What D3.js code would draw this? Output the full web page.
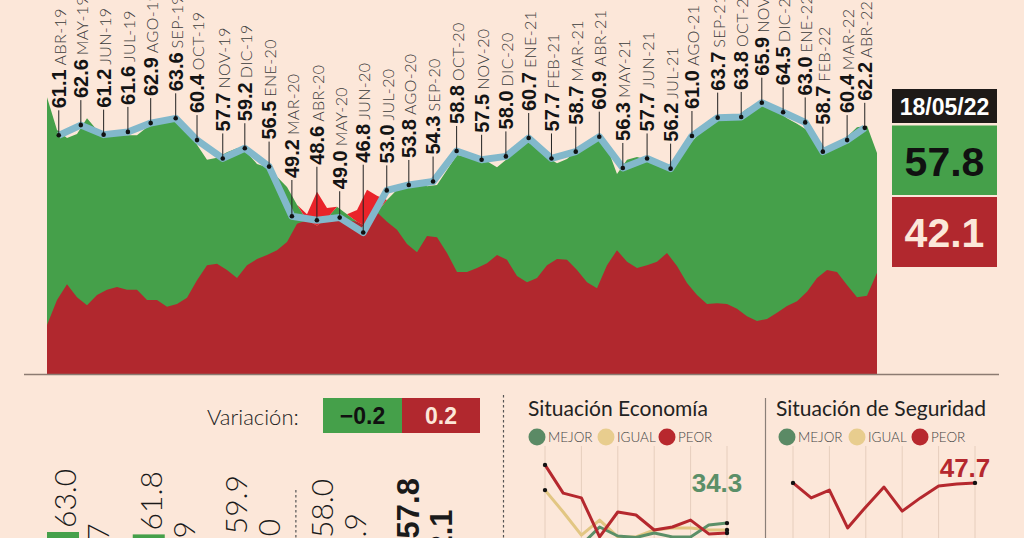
<!DOCTYPE html>
<html>
<head>
<meta charset="utf-8">
<script src="https://cdn.jsdelivr.net/npm/d3@7"></script>
<style>
  html, body { margin: 0; padding: 0; background: #fce7d9; }
  svg { display: block; }
</style>
</head>
<body>
<div id="chart"></div>
<script>
// daily tracking at even steps
const approvalTrack = [66.7, 61.9, 60.7, 61.3, 63.6, 61.9, 61.4, 61.1, 61.1, 61.1,
  62.3, 62.8, 63.1, 63.2, 62.2, 59.7, 57.5, 57.8, 58.6, 59.2,
  58.5, 56.9, 56.4, 55.0, 53.5, 50.9, 48.6, 47.8, 48.9, 50.6,
  49.5, 48.4, 47.6, 49.8, 51.6, 53.1, 53.9, 54.4, 53.6, 53.8,
  56.0, 58.2, 57.9, 57.8, 57.3, 56.4, 57.6, 59.1, 60.1, 59.4,
  57.9, 57.0, 57.6, 58.9, 60.1, 60.9, 59.4, 55.4, 57.5, 57.9,
  57.5, 56.9, 56.3, 57.5, 59.4, 61.0, 62.3, 63.5, 63.4, 63.9,
  65.0, 65.7, 65.4, 64.7, 63.6, 62.8, 61.9, 60.4, 58.6, 59.4,
  60.9, 62.3, 62.5, 58.5]
const disapprovalTrack = [33.2, 36.9, 39.2, 37.3, 36.1, 37.6, 38.4, 38.8, 38.4, 38.4,
  36.9, 36.9, 35.9, 36.3, 37.2, 39.8, 42.0, 42.2, 41.3, 40.1,
  42.0, 42.9, 43.5, 44.2, 45.4, 48.1, 49.5, 52.8, 50.4, 49.2,
  48.6, 50.1, 53.1, 52.2, 48.4, 47.2, 45.1, 43.9, 46.3, 46.1,
  43.8, 41.0, 41.0, 41.6, 42.3, 43.5, 42.8, 40.4, 39.5, 40.1,
  42.0, 42.9, 42.8, 41.3, 39.5, 38.6, 42.0, 44.2, 42.5, 41.6,
  42.0, 42.5, 43.8, 41.9, 39.4, 37.6, 36.3, 36.4, 36.3, 35.6,
  34.5, 33.8, 34.1, 35.0, 36.0, 36.7, 38.1, 40.1, 41.3, 41.0,
  39.1, 37.3, 37.5, 40.9]

// monthly surveys
const surveyDates = ["2019-04-30", "2019-05-30", "2019-06-30", "2019-08-02", "2019-09-02", "2019-10-06",
  "2019-11-04", "2019-12-09", "2020-01-08", "2020-02-10", "2020-03-12", "2020-04-15",
  "2020-05-16", "2020-06-17", "2020-07-19", "2020-08-18", "2020-09-20", "2020-10-22",
  "2020-11-25", "2020-12-28", "2021-01-28", "2021-02-28", "2021-04-02", "2021-05-04",
  "2021-06-05", "2021-07-08", "2021-08-09", "2021-09-07", "2021-10-12", "2021-11-13",
  "2021-12-11", "2022-01-09", "2022-02-08", "2022-03-04", "2022-04-06", "2022-04-30"]
const surveyLabels = ["ABR-19", "MAY-19", "JUN-19", "JUL-19", "AGO-19", "SEP-19",
  "OCT-19", "NOV-19", "DIC-19", "ENE-20", "MAR-20", "ABR-20",
  "MAY-20", "JUN-20", "JUL-20", "AGO-20", "SEP-20", "OCT-20",
  "NOV-20", "DIC-20", "ENE-21", "FEB-21", "MAR-21", "ABR-21",
  "MAY-21", "JUN-21", "JUL-21", "AGO-21", "SEP-21", "OCT-21",
  "NOV-21", "DIC-21", "ENE-22", "FEB-22", "MAR-22", "ABR-22"]
const surveyValues = [61.1, 62.6, 61.2, 61.6, 62.9, 63.6,
  60.4, 57.7, 59.2, 56.5, 49.2, 48.6,
  49.0, 46.8, 53.0, 53.8, 54.3, 58.8,
  57.5, 58.0, 60.7, 57.7, 58.7, 60.9,
  56.3, 57.7, 56.2, 61.0, 63.7, 63.8,
  65.9, 64.5, 63.0, 58.7, 60.4, 62.2]

const lastDate = "18/05/22"
const lastApproval = 57.8
const lastDisapproval = 42.1
const variation = [-0.2, 0.2]

// comparison bars (bottom left)
const compareKeys = ["p1", "p2", "p3", "p4", "p5"]
const compareApproval = [63.0, 61.8, 59.9, 58.0, 57.8]
const compareDisapproval = [35.7, 36.9, 38.0, 40.9, 42.1]

// small panels
const legendItems = ["MEJOR", "IGUAL", "PEOR"]
const econBetter = [24.0, 26.0, 27.0, 33.0, 30.0, 29.5, 31.0, 29.7, 29.7, 33.7, 34.3]
const econSame = [45.3, 38.0, 30.3, 35.3, 29.7, 29.7, 32.0, 32.7, 32.7, 32.0, 32.0]
const econWorse = [53.7, 44.3, 42.7, 29.7, 38.0, 37.0, 32.0, 33.0, 35.3, 30.7, 31.0]
const secWorse = [47.7, 42.7, 45.3, 32.7, 39.7, 46.3, 38.3, 42.7, 46.7, 47.3, 47.7]

const W = 1024, H = 538
const BG = "#fce7d9"
const GREEN = "#45a04a", DARKRED = "#b1282e", BRIGHTRED = "#e9232a"
const numFont = "'Liberation Sans', Arial, sans-serif"
const lightFont = "Lato, 'Open Sans', sans-serif"

const svg = d3.select("#chart").append("svg")
    .attr("width", W)
    .attr("height", H)

svg.append("rect").attr("width", W).attr("height", H).attr("fill", BG)

// ---------- main tracking chart ----------
const parse = d3.timeParse("%Y-%m-%d")
const x = d3.scaleTime()
    .domain([new Date(2019, 3, 14), new Date(2022, 4, 18)])
    .range([47, 878])
const xi = d3.scaleLinear().domain([0, approvalTrack.length - 1]).range([47, 877])
const y = d3.scaleLinear().domain([26, 81]).range([374, 0])

const track = approvalTrack.map((a, i) => ({ i: i, a: a, d: disapprovalTrack[i] }))

const main = svg.append("g")

main.append("path")
    .datum(track)
    .attr("fill", GREEN)
    .attr("d", d3.area().x(d => xi(d.i)).y0(y(26)).y1(d => y(d.a)))

main.append("path")
    .datum(track)
    .attr("fill", DARKRED)
    .attr("d", d3.area().x(d => xi(d.i)).y0(y(26)).y1(d => y(Math.min(d.a, d.d))))

// where disapproval goes above approval
main.append("path")
    .datum(track)
    .attr("fill", BRIGHTRED)
    .attr("d", d3.area().x(d => xi(d.i)).y0(d => y(d.a)).y1(d => y(Math.max(d.a, d.d))))

main.append("line")
    .attr("x1", 24).attr("x2", 999)
    .attr("y1", 374.5).attr("y2", 374.5)
    .attr("stroke", "#8c7b72")
    .attr("stroke-width", 1.5)

const surveys = surveyDates.map((s, i) => ({ date: parse(s), label: surveyLabels[i], v: surveyValues[i] }))

main.append("path")
    .datum(surveys)
    .attr("fill", "none")
    .attr("stroke", "#82b8cb")
    .attr("stroke-width", 7)
    .attr("stroke-linejoin", "round")
    .attr("d", d3.line().x(d => x(d.date)).y(d => y(d.v)))

// label height: keep clear of the dot and of the tracking areas nearby
surveys.forEach(d => {
    const px = x(d.date), py = y(d.v)
    let top = py - 26
    track.forEach(t => {
        if (Math.abs(xi(t.i) - px) <= 6) {
            top = Math.min(top, y(t.a) - 8, y(t.d) - 26)
        }
    })
    d.px = px
    d.py = py
    d.labelY = top
})

const lab = main.append("g")
lab.selectAll("line")
    .data(surveys)
    .enter().append("line")
    .attr("x1", d => d.px).attr("x2", d => d.px)
    .attr("y1", d => d.py).attr("y2", d => d.labelY + 1)
    .attr("stroke", "#222")
    .attr("stroke-width", 1)

lab.selectAll("circle")
    .data(surveys)
    .enter().append("circle")
    .attr("cx", d => d.px).attr("cy", d => d.py)
    .attr("r", 2.3)
    .attr("fill", "#111")

const lt = lab.selectAll("text")
    .data(surveys)
    .enter().append("text")
    .attr("transform", d => `translate(${d.px},${d.labelY - 1}) rotate(-90)`)
    .attr("dy", "0.36em")
    .attr("font-family", numFont)
    .attr("font-size", 20)
lt.append("tspan")
    .attr("font-weight", "bold")
    .attr("fill", "#141414")
    .text(d => d3.format(".1f")(d.v))
lt.append("tspan")
    .attr("dx", 4)
    .attr("font-family", lightFont)
    .attr("font-weight", 300)
    .attr("font-size", 16)
    .attr("letter-spacing", 0.4)
    .attr("fill", "#3a3a3a")
    .text(d => d.label)

// ---------- latest value boxes ----------
const box = svg.append("g")
box.append("rect").attr("x", 892).attr("y", 89).attr("width", 105).attr("height", 34).attr("fill", "#1e1a18")
box.append("text").attr("x", 944.5).attr("y", 115).attr("text-anchor", "middle")
    .attr("font-family", numFont).attr("font-weight", "bold").attr("font-size", 23)
    .attr("fill", "#fff").text(lastDate)
box.append("rect").attr("x", 892).attr("y", 125.5).attr("width", 105).attr("height", 69.5).attr("fill", GREEN)
box.append("text").attr("x", 944.5).attr("y", 176).attr("text-anchor", "middle")
    .attr("font-family", numFont).attr("font-weight", "bold").attr("font-size", 41)
    .attr("fill", "#111").text(d3.format(".1f")(lastApproval))
box.append("rect").attr("x", 892).attr("y", 197).attr("width", 105).attr("height", 70).attr("fill", DARKRED)
box.append("text").attr("x", 944.5).attr("y", 247).attr("text-anchor", "middle")
    .attr("font-family", numFont).attr("font-weight", "bold").attr("font-size", 41)
    .attr("fill", BG).text(d3.format(".1f")(lastDisapproval))

// ---------- variation ----------
const vg = svg.append("g")
vg.append("text").attr("x", 207).attr("y", 425)
    .attr("font-family", lightFont).attr("font-weight", 300).attr("font-size", 22)
    .attr("fill", "#222").text("Variación:")
vg.append("rect").attr("x", 323).attr("y", 398).attr("width", 79).attr("height", 35).attr("fill", GREEN)
vg.append("rect").attr("x", 402).attr("y", 398).attr("width", 78).attr("height", 35).attr("fill", DARKRED)
vg.append("text").attr("x", 362.5).attr("y", 424).attr("text-anchor", "middle")
    .attr("font-family", numFont).attr("font-weight", "bold").attr("font-size", 23)
    .attr("fill", "#111").text(d3.format(".1f")(variation[0]))
vg.append("text").attr("x", 441).attr("y", 424).attr("text-anchor", "middle")
    .attr("font-family", numFont).attr("font-weight", "bold").attr("font-size", 23)
    .attr("fill", BG).text(d3.format(".1f")(variation[1]))

svg.append("line")
    .attr("x1", 503.5).attr("x2", 503.5).attr("y1", 395).attr("y2", H)
    .attr("stroke", "#555").attr("stroke-width", 1.2).attr("stroke-dasharray", "2.5,2.5")

// ---------- comparison bars ----------
const xg = d3.scalePoint().domain(compareKeys).range([65, 408])
const yb = d3.scaleLinear().domain([0, 63]).range([658, 532])
const bars = svg.append("g")
const lastKey = compareKeys[compareKeys.length - 1]

compareKeys.forEach((k, i) => {
    const cx = xg(k)
    const bold = k === lastKey
    bars.append("rect").attr("x", cx - 18).attr("y", yb(compareApproval[i]))
        .attr("width", 32).attr("height", yb(0) - yb(compareApproval[i])).attr("fill", GREEN)
    bars.append("rect").attr("x", cx + 16).attr("y", yb(compareDisapproval[i]))
        .attr("width", 32).attr("height", yb(0) - yb(compareDisapproval[i])).attr("fill", DARKRED)
    ;[[compareApproval[i], cx], [compareDisapproval[i], cx + 33]].forEach(([v, lx]) => {
        bars.append("text")
            .attr("transform", `translate(${lx},${yb(v) - 4}) rotate(-90)`)
            .attr("dy", "0.36em")
            .attr("font-family", bold ? numFont : lightFont)
            .attr("font-weight", bold ? "bold" : 300)
            .attr("font-size", bold ? 31 : 30)
            .attr("fill", "#1a1a1a")
            .text(d3.format(".1f")(v))
    })
})
bars.append("line")
    .attr("x1", (xg(compareKeys[2]) + 33 + xg(compareKeys[3])) / 2)
    .attr("x2", (xg(compareKeys[2]) + 33 + xg(compareKeys[3])) / 2)
    .attr("y1", 490).attr("y2", H)
    .attr("stroke", "#555").attr("stroke-width", 1.2).attr("stroke-dasharray", "2.5,2.5")

// ---------- small panels ----------
const legendColors = ["#5b8a65", "#e8cd8e", "#b8282e"]
const lineColors = ["#5b8f68", "#e2c682", "#b5282e"]
const ys = d3.scaleLinear().domain([20, 60]).range([566, 446])

function panel(x0, x1, title, series, labelIdx, labelLift, legendX) {
    const g = svg.append("g")
    const xs = d3.scaleLinear().domain([0, 10]).range([x0, x1])
    g.append("text").attr("x", x0 - 17).attr("y", 416)
        .attr("font-family", lightFont).attr("font-size", 21)
        .attr("fill", "#222").text(title)
    legendItems.forEach((name, i) => {
        g.append("circle").attr("cx", legendX[i]).attr("cy", 437).attr("r", 8.5).attr("fill", legendColors[i])
        g.append("text").attr("x", legendX[i] + 11).attr("y", 442)
            .attr("font-family", lightFont).attr("font-weight", 300).attr("font-size", 13.5)
            .attr("fill", "#444").text(name)
    })
    g.selectAll(".grid")
        .data(d3.range(0, 11, 2))
        .enter().append("line")
        .attr("x1", d => xs(d)).attr("x2", d => xs(d))
        .attr("y1", 446).attr("y2", H)
        .attr("stroke", "#e6cebd").attr("stroke-width", 1)
    const line = d3.line().x((d, i) => xs(i)).y(d => ys(d))
    series.forEach(s => {
        g.append("path").datum(s.values)
            .attr("fill", "none").attr("stroke", s.color).attr("stroke-width", 3)
            .attr("stroke-linejoin", "round")
            .attr("d", line)
        ;[0, s.values.length - 1].forEach(j => {
            g.append("circle").attr("cx", xs(j)).attr("cy", ys(s.values[j])).attr("r", 2.2).attr("fill", "#111")
        })
    })
    const ls = series[labelIdx]
    g.append("text")
        .attr("x", xs(10) - 10).attr("y", ys(ls.values[10]) - labelLift)
        .attr("text-anchor", "middle")
        .attr("font-family", numFont).attr("font-weight", "bold").attr("font-size", 26)
        .attr("fill", ls.color).text(d3.format(".1f")(ls.values[10]))
}

panel(545, 727, "Situación Economía", [
    { values: econSame, color: lineColors[1] },
    { values: econBetter, color: lineColors[0] },
    { values: econWorse, color: lineColors[2] }
], 1, 31, [537, 606, 667])

svg.append("line")
    .attr("x1", 765.5).attr("x2", 765.5).attr("y1", 398).attr("y2", H)
    .attr("stroke", "#8a7f78").attr("stroke-width", 1.2)

panel(793, 975, "Situación de Seguridad", [
    { values: secWorse, color: lineColors[2] }
], 0, 6, [787, 857, 920])
</script>
